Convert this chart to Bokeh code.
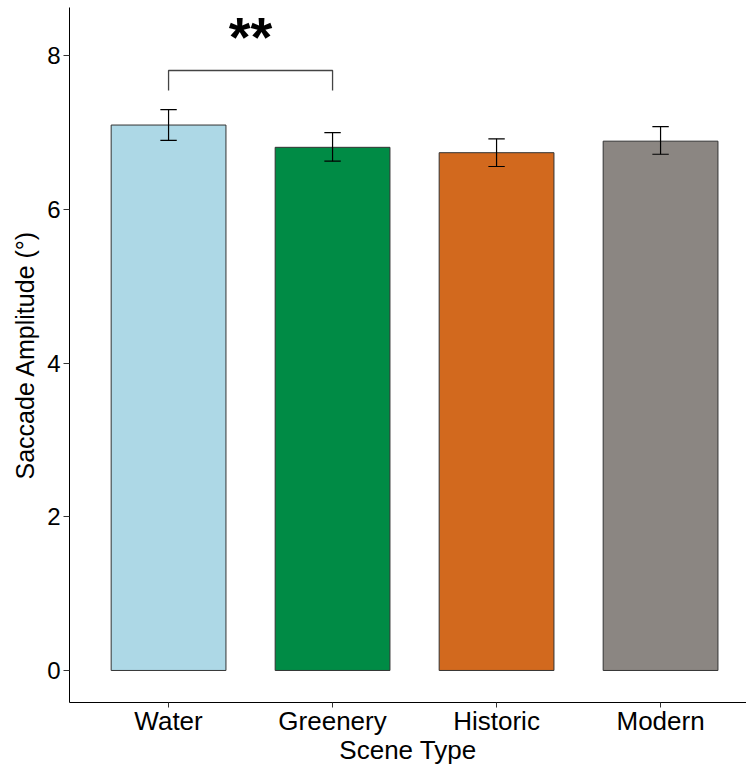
from bokeh.plotting import figure
from bokeh.models import Range1d, FixedTicker
from bokeh.core.properties import value
from bokeh.embed import file_html
from bokeh.resources import INLINE

categories = ["Water", "Greenery", "Historic", "Modern"]
means = [7.10, 6.81, 6.74, 6.89]
err_low = [6.90, 6.63, 6.56, 6.72]
err_high = [7.30, 7.00, 6.92, 7.08]
colors = ["#ADD8E6", "#008B45", "#D2691E", "#8B8682"]
positions = [1, 2, 3, 4]

# significance bracket between Water and Greenery
bracket_x = [1, 1, 2, 2]
bracket_y = [7.55, 7.81, 7.81, 7.55]
sig_label = "**"
sig_x = 1.5
sig_y = 8.25

FONT = "Liberation Sans"

p = figure(width=746, height=769, output_backend="svg", toolbar_location=None,
           x_range=Range1d(0.396, 4.524), y_range=Range1d(-0.417, 8.63),
           min_border_left=69, min_border_right=0, min_border_top=7, min_border_bottom=67)

p.vbar(x=positions, top=means, bottom=0, width=0.7, fill_color=colors,
       line_color="#333333", line_width=1)

p.segment(x0=positions, y0=err_low, x1=positions, y1=err_high, line_color="black", line_width=1.2)
cap = 0.05
p.segment(x0=[x - cap for x in positions], y0=err_low, x1=[x + cap for x in positions], y1=err_low,
          line_color="black", line_width=1.2)
p.segment(x0=[x - cap for x in positions], y0=err_high, x1=[x + cap for x in positions], y1=err_high,
          line_color="black", line_width=1.2)

p.line(x=bracket_x, y=bracket_y, line_color="#444444", line_width=1.3)
p.text(x=[sig_x], y=[sig_y], text=[sig_label], text_font=value(FONT), text_font_size="56px",
       text_font_style="bold", text_align="center", text_baseline="middle", text_color="black")

p.xgrid.visible = False
p.ygrid.visible = False
p.outline_line_color = None
p.background_fill_color = "white"
p.border_fill_color = "white"

p.xaxis.ticker = FixedTicker(ticks=positions)
p.xaxis.major_label_overrides = {pos: c for pos, c in zip(positions, categories)}
p.yaxis.ticker = FixedTicker(ticks=[0, 2, 4, 6, 8])

for ax in (p.xaxis[0], p.yaxis[0]):
    ax.axis_line_color = "black"
    ax.axis_line_width = 1
    ax.major_tick_line_color = "#333333"
    ax.major_tick_out = 6
    ax.major_tick_in = 0
    ax.minor_tick_line_color = None
    ax.major_label_text_font = FONT
    ax.major_label_text_color = "black"
    ax.axis_label_text_font = FONT
    ax.axis_label_text_font_style = "normal"
    ax.axis_label_text_color = "black"

p.xaxis.major_label_text_font_size = "26px"
p.xaxis.axis_label_text_font_size = "26px"
p.yaxis.major_label_text_font_size = "24px"
p.yaxis.axis_label_text_font_size = "25px"

p.xaxis.axis_label = "Scene Type"
p.yaxis.axis_label = "Saccade Amplitude (°)"
p.xaxis.major_tick_out = 5
p.xaxis.major_label_standoff = -2
p.xaxis.axis_label_standoff = -4
p.yaxis.major_label_standoff = 3
p.yaxis.axis_label_standoff = 5

open("out.html", "w").write(file_html(p, INLINE))
